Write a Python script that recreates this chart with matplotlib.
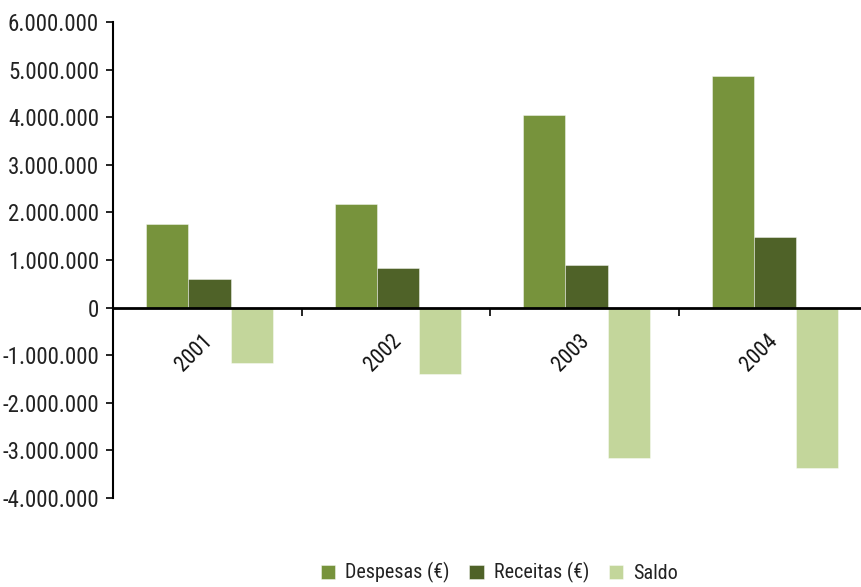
import matplotlib
matplotlib.use("Agg")
import matplotlib.pyplot as plt
from matplotlib import font_manager
from matplotlib.ticker import FuncFormatter, FixedLocator
from matplotlib.transforms import ScaledTranslation
import numpy as np

# Prefer a narrow sans face when one is present on the system.
def pick_narrow_font():
    entries = font_manager.fontManager.ttflist
    names = {f.name for f in entries}
    for fam in ["Liberation Sans Narrow", "Roboto Condensed", "Open Sans Condensed",
                "Noto Sans Condensed", "DejaVu Sans Condensed", "Arial Narrow"]:
        if fam in names:
            return fam, "normal"
    for f in entries:
        if f.name in ("DejaVu Sans", "Noto Sans", "Roboto", "Open Sans") and \
                str(f.stretch) in ("condensed", "semi-condensed", "extra-condensed"):
            return f.name, f.stretch
    return "DejaVu Sans", "condensed"

FONT, STRETCH = pick_narrow_font()
plt.rcParams['font.family'] = [FONT, 'DejaVu Sans']
plt.rcParams['font.stretch'] = STRETCH

years = ["2001", "2002", "2003", "2004"]
despesas = [1755000, 2175000, 4040000, 4860000]
receitas = [594000, 832000, 900000, 1482000]
saldo = [-1170000, -1400000, -3150000, -3380000]
series_names = ["Despesas (€)", "Receitas (€)", "Saldo"]
colors = ["#77933C", "#4F6228", "#C3D69B"]

fig = plt.figure(figsize=(8.61, 5.87), dpi=100)
ax = fig.add_axes([113 / 861, 1 - 498 / 587, (867 - 113) / 861, (498 - 22) / 587])

x = np.arange(len(years))
w = 0.223
shift = 0.012
for k, (vals, name, c) in enumerate(zip([despesas, receitas, saldo], series_names, colors)):
    ax.bar(x + (k - 1) * w + shift, vals, width=w, color=c, label=name,
           edgecolor=(1, 1, 1, 0.5), linewidth=0.6, zorder=2)

ax.set_xlim(-0.5, 3.5)
ax.set_ylim(-4000000, 6000000)
ax.set_yticks(np.arange(-4000000, 6000001, 1000000))

def fmt(v, pos):
    s = f"{abs(int(round(v))):,}".replace(",", ".")
    return ("-" if v < 0 else "") + s

ax.yaxis.set_major_formatter(FuncFormatter(fmt))
ax.tick_params(axis='y', direction='out', length=5, width=1.2, labelsize=16.5,
               pad=5, labelcolor='#222222')

ax.spines['top'].set_visible(False)
ax.spines['right'].set_visible(False)
ax.spines['bottom'].set_position(('data', 0))
ax.spines['bottom'].set_linewidth(2)
ax.spines['bottom'].set_zorder(3)
ax.spines['left'].set_linewidth(1.5)

ax.xaxis.set_major_locator(FixedLocator([-0.5, 0.5, 1.5, 2.5, 3.5]))
ax.set_xticklabels([])
ax.tick_params(axis='x', direction='out', length=6, width=1.2)

for i, yr in enumerate(years):
    tr = ax.transData + ScaledTranslation(-13 / 100, -45 / 100, fig.dpi_scale_trans)
    ax.text(i, 0, yr, transform=tr, rotation=45, ha='center', va='center',
            fontsize=15.5, color='#111111')

fig.legend(loc='center', bbox_to_anchor=(0.58, 0.024), ncol=3, frameon=False,
           fontsize=14.5, handlelength=0.7, handleheight=0.7, handletextpad=0.5,
           columnspacing=1.0, labelcolor='#222222')

fig.savefig("out.png", dpi=100)
